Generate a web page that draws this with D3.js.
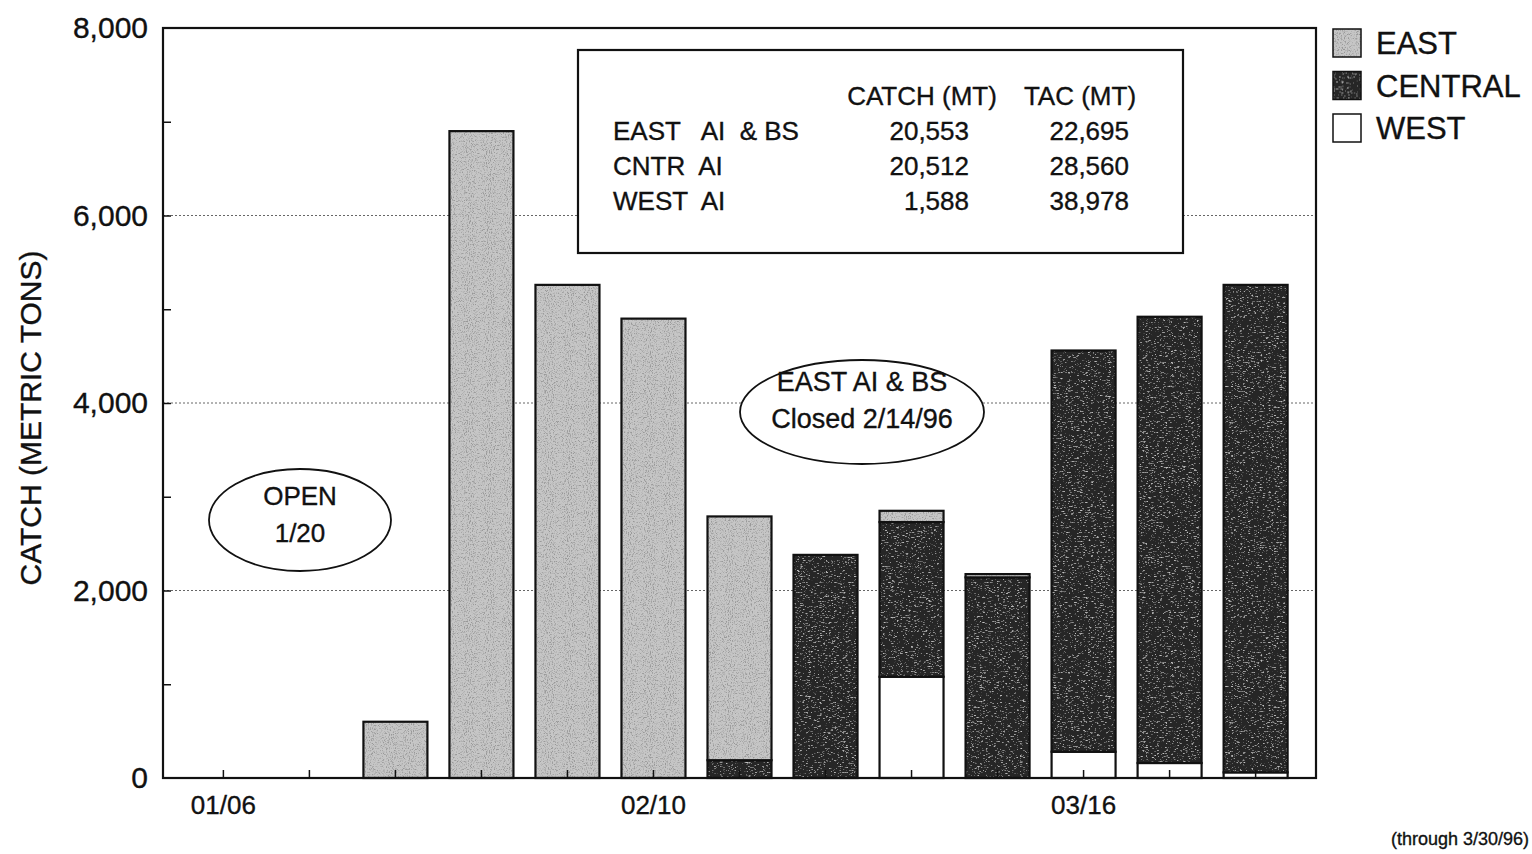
<!DOCTYPE html>
<html>
<head>
<meta charset="utf-8">
<script src="https://cdn.jsdelivr.net/npm/d3@7"></script>
<style>
  html, body { margin: 0; padding: 0; background: #fff; }
  svg { display: block; font-family: "Liberation Sans", Arial, sans-serif; }
  svg text { fill: #111; stroke: #111; stroke-width: 0.35px; }
</style>
</head>
<body>
<svg id="chart" width="1532" height="854"></svg>
<script>
// Weekly catch by area, metric tons
const weeks   = ["01/06","01/13","01/20","01/27","02/03","02/10","02/17","02/24","03/02","03/09","03/16","03/23","03/30"];
const east    = [0, 0, 600, 6900, 5260, 4900, 2600, 0, 120, 35, 0, 0, 0];
const central = [0, 0, 0, 0, 0, 0, 190, 2380, 1650, 2140, 4280, 4760, 5200];
const west    = [0, 0, 0, 0, 0, 0, 0, 0, 1080, 0, 280, 160, 60];
const weekLabels = ["01/06", "02/10", "03/16"];
const yTicks = [0, 2000, 4000, 6000, 8000];
const yMinorTicks = [1000, 2000, 3000, 4000, 5000, 6000, 7000];
const gridValues = [2000, 4000, 6000];

// Season summary table
const summaryHeader = ["CATCH (MT)", "TAC (MT)"];
const summaryAreas  = ["EAST   AI  & BS", "CNTR  AI", "WEST  AI"];
const summaryCatch  = ["20,553", "20,512", "1,588"];
const summaryTac    = ["22,695", "28,560", "38,978"];

const seriesKeys  = ["west", "central", "east"];   // stacking order, bottom to top
const legendKeys  = ["east", "central", "west"];
const legendNames = { east: "EAST", central: "CENTRAL", west: "WEST" };

const svg = d3.select("#chart");
const plot = { left: 163, right: 1316, top: 28, bottom: 778 };

// Grainy fills for the shaded series
const defs = svg.append("defs");
function grain(id, base, speck, freq, seed, slope, offset) {
  const f = defs.append("filter").attr("id", id + "F")
    .attr("x", 0).attr("y", 0).attr("width", "100%").attr("height", "100%");
  f.append("feTurbulence").attr("type", "fractalNoise")
    .attr("baseFrequency", freq).attr("numOctaves", 2).attr("seed", seed).attr("result", "n");
  const c = d3.color(speck);
  f.append("feColorMatrix").attr("in", "n").attr("type", "matrix")
    .attr("values", `0 0 0 0 ${c.r/255}  0 0 0 0 ${c.g/255}  0 0 0 0 ${c.b/255}  ${slope} 0 0 0 ${offset}`)
    .attr("result", "s");
  const m = f.append("feMerge");
  m.append("feMergeNode").attr("in", "SourceGraphic");
  m.append("feMergeNode").attr("in", "s");
  const p = defs.append("pattern").attr("id", id)
    .attr("patternUnits", "userSpaceOnUse").attr("width", 300).attr("height", 300);
  p.append("rect").attr("width", 300).attr("height", 300)
    .attr("fill", base).attr("filter", `url(#${id}F)`);
}
grain("eastTex", "#c6c6c6", "#505050", "0.95 0.75", 4, 4.0, -1.95);
grain("centralTex", "#282828", "#8a8a8a", "0.35 1.2", 7, 4.5, -2.7);

const fills = { east: "url(#eastTex)", central: "url(#centralTex)", west: "#ffffff" };

const x = d3.scaleBand().domain(weeks)
  .range([plot.left, plot.right]).paddingInner(0.256).paddingOuter(0.33);
const y = d3.scaleLinear().domain([0, 8000]).range([plot.bottom, plot.top]);

// Dotted gridlines
svg.append("g").selectAll("line").data(gridValues).join("line")
  .attr("x1", plot.left).attr("x2", plot.right)
  .attr("y1", d => y(d)).attr("y2", d => y(d))
  .attr("stroke", "#666").attr("stroke-width", 1).attr("stroke-dasharray", "2,2");

// Stacked bars
const rows = weeks.map((w, i) => ({ week: w, east: east[i], central: central[i], west: west[i] }));
const stacked = d3.stack().keys(seriesKeys)(rows);
svg.append("g").selectAll("g").data(stacked).join("g")
  .attr("fill", d => fills[d.key])
  .selectAll("rect").data(d => d.filter(s => s[1] - s[0] > 0)).join("rect")
  .attr("x", d => x(d.data.week))
  .attr("width", x.bandwidth())
  .attr("y", d => y(d[1]))
  .attr("height", d => y(d[0]) - y(d[1]))
  .attr("stroke", "#111").attr("stroke-width", 2.2);

// Frame
svg.append("rect")
  .attr("x", plot.left).attr("y", plot.top)
  .attr("width", plot.right - plot.left).attr("height", plot.bottom - plot.top)
  .attr("fill", "none").attr("stroke", "#111").attr("stroke-width", 2.2);

// Y axis: inward ticks every 1000, labels at 2000 steps
const yAxis = svg.append("g").attr("transform", `translate(${plot.left},0)`);
yAxis.call(d3.axisRight(y).tickValues(yMinorTicks).tickSize(8).tickFormat(""));
yAxis.select(".domain").remove();
yAxis.selectAll("line").attr("stroke", "#111").attr("stroke-width", 1.5);
svg.append("g").selectAll("text").data(yTicks).join("text")
  .attr("x", 148).attr("y", d => y(d) + 10)
  .attr("text-anchor", "end").attr("font-size", 30)
  .text(d3.format(","));

// X axis: inward ticks at every week, labels every fifth week
const xAxis = svg.append("g").attr("transform", `translate(0,${plot.bottom})`);
xAxis.call(d3.axisTop(x).tickSize(8).tickFormat(""));
xAxis.select(".domain").remove();
xAxis.selectAll("line").attr("stroke", "#111").attr("stroke-width", 1.5);
svg.append("g").selectAll("text").data(weekLabels).join("text")
  .attr("x", d => x(d) + x.bandwidth() / 2).attr("y", 814)
  .attr("text-anchor", "middle").attr("font-size", 26)
  .text(d => d);

// Axis title
svg.append("text")
  .attr("transform", "translate(41,418) rotate(-90)")
  .attr("text-anchor", "middle").attr("font-size", 30)
  .text("CATCH (METRIC TONS)");

svg.append("text").attr("x", 1529).attr("y", 845)
  .attr("text-anchor", "end").attr("font-size", 18)
  .text("(through 3/30/96)");

// Summary table
const tbl = svg.append("g");
tbl.append("rect").attr("x", 578).attr("y", 50).attr("width", 605).attr("height", 203)
  .attr("fill", "#fff").attr("stroke", "#111").attr("stroke-width", 2.2);
tbl.append("text").attr("x", 922).attr("y", 105).attr("text-anchor", "middle")
  .attr("font-size", 26).text(summaryHeader[0]);
tbl.append("text").attr("x", 1080).attr("y", 105).attr("text-anchor", "middle")
  .attr("font-size", 26).text(summaryHeader[1]);
summaryAreas.forEach((a, i) => {
  const yy = 140 + i * 35;
  tbl.append("text").attr("x", 613).attr("y", yy).attr("font-size", 26)
    .attr("xml:space", "preserve").style("white-space", "pre").text(a);
  tbl.append("text").attr("x", 969).attr("y", yy).attr("text-anchor", "end")
    .attr("font-size", 26).text(summaryCatch[i]);
  tbl.append("text").attr("x", 1129).attr("y", yy).attr("text-anchor", "end")
    .attr("font-size", 26).text(summaryTac[i]);
});

// Callout ellipses
function callout(cx, cy, rx, ry, lines, y0, dy, size) {
  const g = svg.append("g");
  g.append("ellipse").attr("cx", cx).attr("cy", cy).attr("rx", rx).attr("ry", ry)
    .attr("fill", "#fff").attr("stroke", "#111").attr("stroke-width", 1.8);
  lines.forEach((t, i) => g.append("text").attr("x", cx).attr("y", y0 + i * dy)
    .attr("text-anchor", "middle").attr("font-size", size).text(t));
}
callout(300, 520, 91, 51, ["OPEN", "1/20"], 505, 37, 26);
callout(862, 412, 122, 52, ["EAST AI & BS", "Closed 2/14/96"], 391, 37, 27);

// Legend
const lg = svg.append("g").selectAll("g").data(legendKeys).join("g")
  .attr("transform", (d, i) => `translate(1333,${29 + i * 42.5})`);
lg.append("rect").attr("width", 28).attr("height", 28)
  .attr("fill", d => fills[d]).attr("stroke", "#111").attr("stroke-width", 1.5);
lg.append("text").attr("x", 43).attr("y", 25).attr("font-size", 31)
  .text(d => legendNames[d]);
</script>
</body>
</html>
